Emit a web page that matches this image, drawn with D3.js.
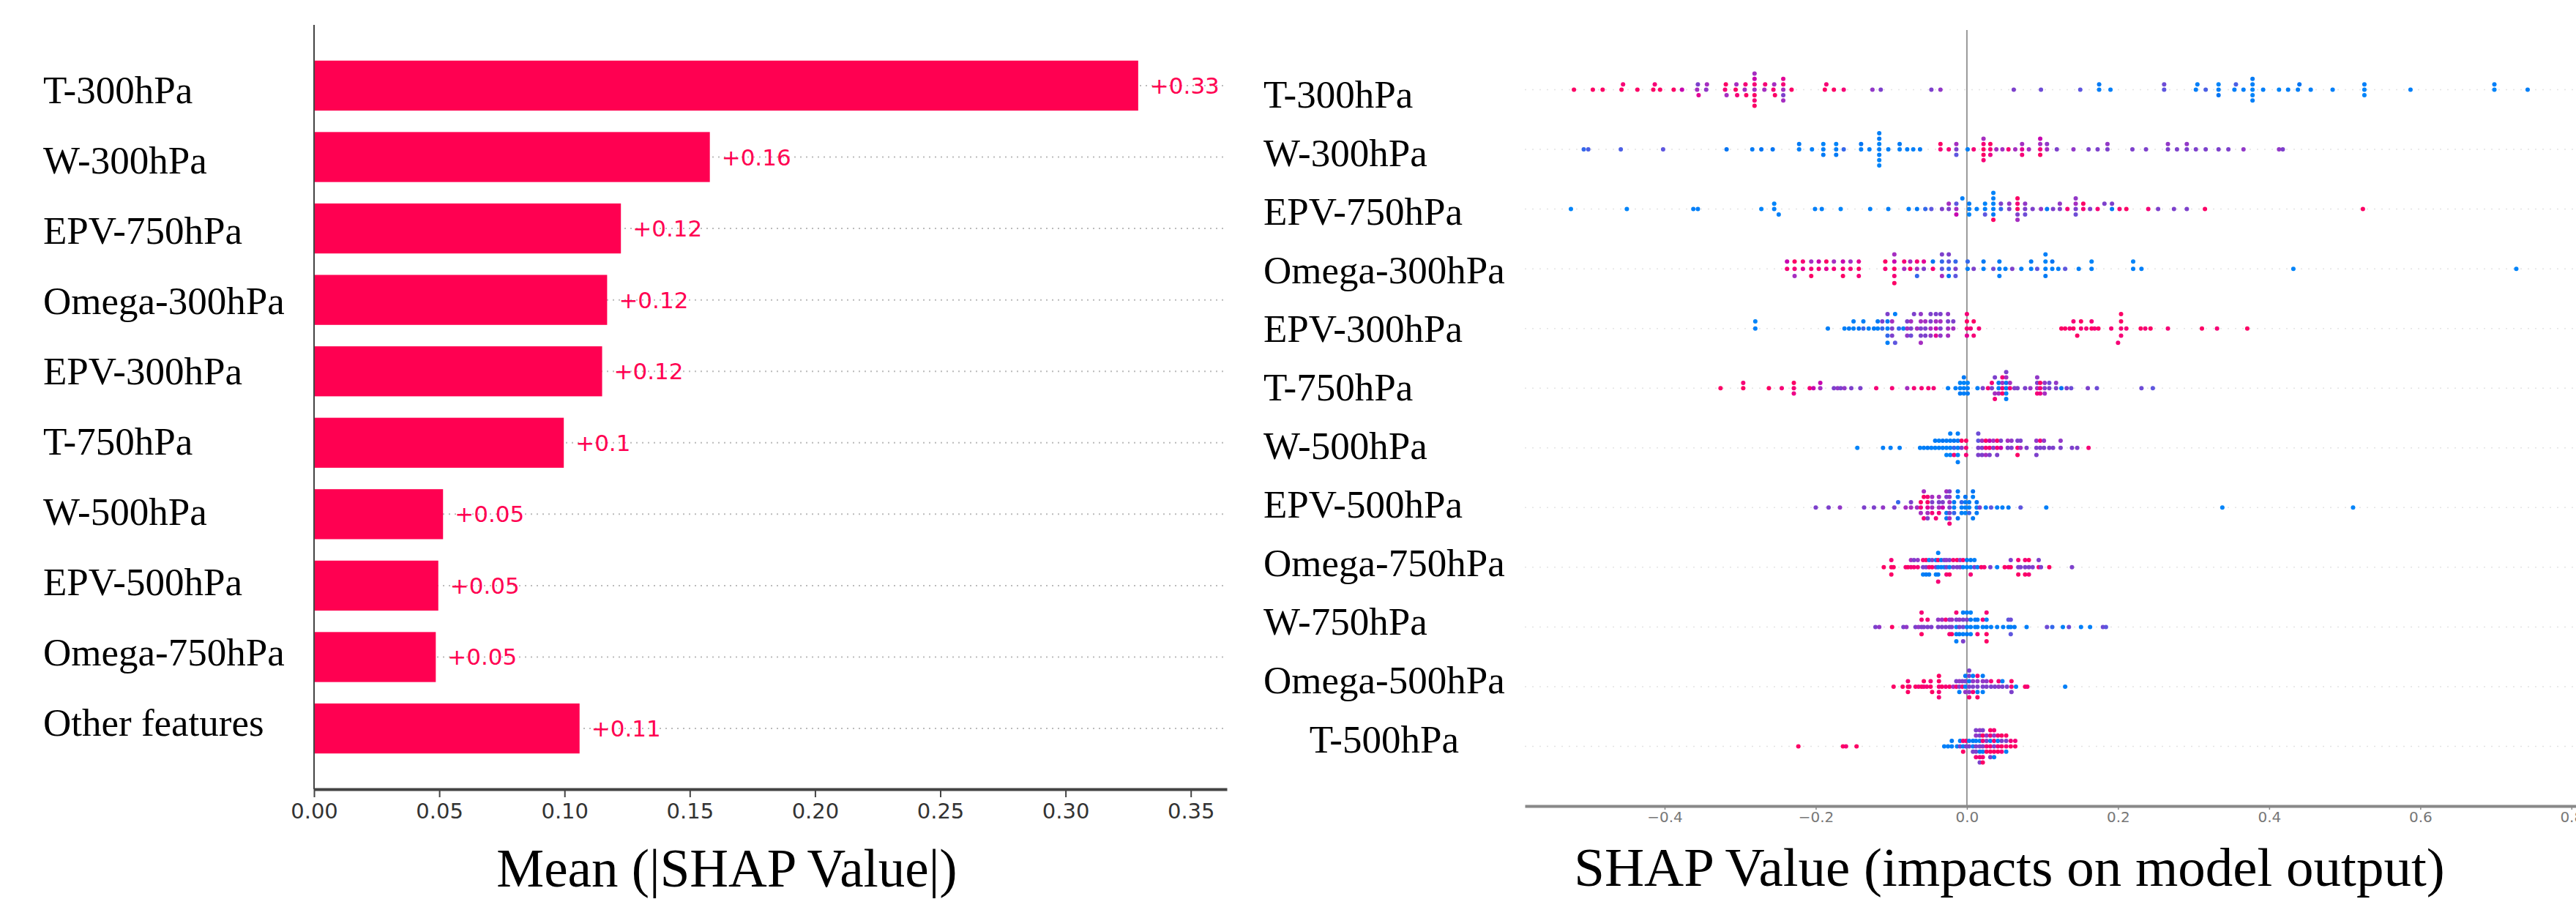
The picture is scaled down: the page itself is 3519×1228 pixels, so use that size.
<!DOCTYPE html>
<html>
<head>
<meta charset="utf-8">
<script src="https://cdn.jsdelivr.net/npm/d3@7"></script>
<style>
  body { margin: 0; background: #fff; }
</style>
</head>
<body>
<div id="chart"></div>
<script>
// ---------- data ----------
// left: mean |SHAP| per feature
var barFeatures = ["T-300hPa", "W-300hPa", "EPV-750hPa", "Omega-300hPa", "EPV-300hPa",
  "T-750hPa", "W-500hPa", "EPV-500hPa", "Omega-750hPa", "Other features"];
var barValues = [0.329, 0.158, 0.1225, 0.117, 0.115, 0.0997, 0.0515, 0.0496, 0.0486, 0.106];
var barTicks = [0, 0.05, 0.10, 0.15, 0.20, 0.25, 0.30, 0.35];

// right: beeswarm rows, each dot = [shap value, feature value (0 low .. 1 high)]
var swarmFeatures = ["T-300hPa", "W-300hPa", "EPV-750hPa", "Omega-300hPa", "EPV-300hPa", "T-750hPa",
  "W-500hPa", "EPV-500hPa", "Omega-750hPa", "W-750hPa", "Omega-500hPa", "T-500hPa"];
var swarmTicks = [-0.4, -0.2, 0.0, 0.2, 0.4, 0.6, 0.8];

var dotsT300 = [[-0.520,.95],[-0.495,.95],[-0.482,.95],[-0.457,.95],[-0.455,.9],[-0.436,.95],[-0.415,.95],[-0.413,.9],
  [-0.406,.95],[-0.388,.95],[-0.377,.7],[-0.357,.6],[-0.356,.5],[-0.355,.8],[-0.345,.55],[-0.344,.6],
  [-0.320,.9],[-0.319,.95],[-0.318,.6],[-0.306,.95],[-0.305,.6],[-0.304,.9],[-0.294,.6],[-0.293,.9],[-0.292,.95],
  [-0.281,.6],[-0.281,.9],[-0.281,.95],[-0.281,.7],[-0.281,.9],[-0.281,.6],[-0.281,.95],[-0.268,.6],[-0.267,.9],
  [-0.256,.9],[-0.255,.6],[-0.254,.95],[-0.243,.6],[-0.243,.9],[-0.243,.5],[-0.243,.8],[-0.243,.6],[-0.232,.95],
  [-0.188,.95],[-0.186,.9],[-0.176,.95],[-0.163,.9],[-0.125,.55],[-0.114,.5],[-0.047,.5],[-0.035,.55],
  [0.062,.5],[0.098,.45],[0.150,.4],[0.175,.1],[0.175,.15],[0.190,.1],[0.261,.4],[0.261,.45],
  [0.303,.1],[0.305,.1],[0.316,.35],[0.333,.1],[0.333,.05],[0.333,.2],[0.354,.1],[0.356,.35],[0.366,.1],
  [0.378,.05],[0.378,.1],[0.378,.05],[0.378,.15],[0.378,.1],[0.392,.1],[0.413,.05],[0.425,.1],[0.438,.1],[0.440,.2],
  [0.455,.1],[0.484,.1],[0.526,.05],[0.526,.1],[0.526,.05],[0.587,.1],[0.698,.05],[0.698,.1],[0.742,.1]];

var dotsW300 = [[-0.507,.3],[-0.501,.35],[-0.458,.35],[-0.402,.4],[-0.318,.2],[-0.284,.15],[-0.272,.2],[-0.257,.2],
  [-0.222,.1],[-0.222,.15],[-0.205,.1],[-0.190,.1],[-0.190,.05],[-0.190,.15],[-0.173,.1],[-0.173,.05],[-0.173,.15],[-0.163,.3],
  [-0.140,.1],[-0.140,.2],[-0.129,.1],[-0.116,.1],[-0.116,.05],[-0.116,.1],[-0.116,.15],[-0.116,.05],[-0.116,.1],[-0.116,.05],
  [-0.104,.1],[-0.089,.1],[-0.089,.15],[-0.079,.1],[-0.071,.1],[-0.062,.15],[-0.035,.9],[-0.035,.95],[-0.024,.9],
  [-0.014,.5],[-0.014,.6],[-0.014,.4],[0.001,.1],[0.009,.9],[0.022,.95],[0.022,.9],[0.022,.95],[0.022,.6],[0.022,.9],
  [0.031,.9],[0.031,.95],[0.031,.85],[0.039,.6],[0.047,.6],[0.055,.9],[0.064,.6],[0.073,.8],[0.073,.6],[0.073,.9],[0.082,.6],
  [0.097,.9],[0.097,.6],[0.097,.95],[0.097,.7],[0.106,.6],[0.106,.55],[0.119,.5],[0.141,.55],[0.161,.5],[0.173,.5],
  [0.186,.5],[0.186,.55],[0.219,.5],[0.237,.5],[0.266,.5],[0.266,.55],[0.278,.5],[0.291,.5],[0.291,.55],[0.303,.5],
  [0.316,.5],[0.333,.5],[0.346,.5],[0.366,.55],[0.413,.55],[0.418,.5]];

var dotsEPV750 = [[-0.524,.05],[-0.450,.05],[-0.362,.1],[-0.356,.1],[-0.272,.05],[-0.255,.1],[-0.255,.05],[-0.249,.1],
  [-0.201,.1],[-0.192,.1],[-0.167,.05],[-0.128,.1],[-0.104,.1],[-0.077,.1],[-0.066,.15],[-0.055,.3],[-0.047,.4],
  [-0.033,.5],[-0.024,.5],[-0.024,.6],[-0.014,.6],[-0.014,.4],[-0.014,.7],[-0.006,.1],[0.003,.1],[0.003,.15],[0.003,.05],
  [0.013,.1],[0.024,.1],[0.024,.05],[0.024,.4],[0.035,.1],[0.035,.05],[0.035,.15],[0.035,.1],[0.035,.95],[0.035,.05],
  [0.045,.3],[0.045,.5],[0.056,.5],[0.056,.55],[0.067,.95],[0.067,.9],[0.067,.5],[0.067,.95],[0.067,.6],
  [0.077,.5],[0.077,.55],[0.077,.45],[0.087,.5],[0.098,.55],[0.106,.15],[0.114,.5],[0.123,.5],[0.123,.55],[0.133,.9],
  [0.144,.5],[0.144,.6],[0.144,.45],[0.144,.55],[0.154,.9],[0.154,.95],[0.163,.5],[0.173,.9],[0.182,.5],[0.192,.15],[0.192,.5],
  [0.202,.9],[0.211,.95],[0.240,.9],[0.253,.5],[0.274,.5],[0.291,.5],[0.315,.95],[0.524,.95]];

var dotsOmega300 = [[-0.238,.9],[-0.238,.7],[-0.228,.9],[-0.228,.95],[-0.228,.6],[-0.217,.8],[-0.217,.9],[-0.206,.9],
  [-0.206,.6],[-0.206,.95],[-0.196,.9],[-0.196,.7],[-0.186,.8],[-0.186,.95],[-0.176,.9],[-0.176,.6],[-0.164,.9],[-0.164,.7],
  [-0.164,.95],[-0.154,.9],[-0.154,.6],[-0.143,.95],[-0.143,.8],[-0.143,.9],[-0.108,.9],[-0.108,.95],
  [-0.096,.95],[-0.096,.7],[-0.096,.9],[-0.096,.6],[-0.096,.95],[-0.083,.6],[-0.083,.9],[-0.075,.95],[-0.075,.6],
  [-0.066,.6],[-0.066,.9],[-0.066,.3],[-0.057,.5],[-0.057,.8],[-0.045,.9],[-0.045,.2],[-0.033,.4],[-0.033,.3],[-0.033,.6],
  [-0.033,.5],[-0.024,.3],[-0.024,.4],[-0.024,.2],[-0.024,.5],[-0.015,.5],[-0.015,.3],[-0.015,.4],[0.001,.1],[0.001,.3],
  [0.009,.5],[0.022,.1],[0.022,.15],[0.035,.45],[0.043,.1],[0.043,.15],[0.043,.1],[0.051,.1],[0.060,.5],[0.072,.1],
  [0.085,.1],[0.085,.15],[0.093,.4],[0.104,.1],[0.104,.05],[0.104,.15],[0.104,.1],[0.113,.1],[0.113,.2],[0.121,.1],
  [0.130,.4],[0.148,.1],[0.165,.1],[0.165,.05],[0.220,.1],[0.220,.05],[0.231,.1],[0.432,.05],[0.727,.05]];

var dotsEPV300 = [[-0.280,.1],[-0.280,.05],[-0.184,.1],[-0.162,.1],[-0.156,.15],[-0.150,.1],[-0.150,.1],[-0.143,.2],
  [-0.137,.3],[-0.137,.1],[-0.130,.1],[-0.123,.15],[-0.118,.1],[-0.118,.15],[-0.112,.3],[-0.112,.5],
  [-0.105,.1],[-0.105,.15],[-0.105,.3],[-0.105,.5],[-0.105,.1],[-0.099,.5],[-0.099,.6],[-0.099,.5],[-0.095,.1],[-0.095,.4],
  [-0.090,.3],[-0.084,.1],[-0.079,.6],[-0.079,.5],[-0.079,.55],[-0.074,.5],[-0.074,.6],[-0.074,.45],[-0.070,.5],[-0.066,.6],
  [-0.061,.5],[-0.061,.6],[-0.061,.5],[-0.061,.55],[-0.061,.6],[-0.055,.5],[-0.055,.6],[-0.055,.5],
  [-0.048,.6],[-0.048,.5],[-0.048,.55],[-0.048,.5],[-0.041,.7],[-0.041,.6],[-0.041,.8],[-0.041,.5],
  [-0.035,.5],[-0.035,.6],[-0.035,.55],[-0.035,.5],[-0.025,.6],[-0.025,.5],[-0.025,.6],[-0.025,.55],[-0.018,.6],[-0.018,.5],
  [0.000,.9],[0.000,.95],[0.000,.8],[0.000,.9],[0.005,.9],[0.009,.95],[0.009,.9],[0.016,.9],
  [0.125,.95],[0.130,.95],[0.136,.9],[0.141,.95],[0.141,.9],[0.146,.95],[0.151,.9],[0.151,.95],[0.158,.9],[0.165,.95],
  [0.165,.9],[0.169,.9],[0.174,.95],[0.191,.9],[0.204,.9],[0.204,.95],[0.204,.9],[0.204,.95],[0.200,.9],[0.211,.9],
  [0.230,.95],[0.236,.9],[0.243,.95],[0.266,.9],[0.311,.95],[0.331,.9],[0.371,.95]];

var dotsT750 = [[-0.326,.95],[-0.296,.95],[-0.296,.9],[-0.262,.95],[-0.245,.9],[-0.229,.9],[-0.229,.95],[-0.229,.85],
  [-0.208,.9],[-0.203,.7],[-0.194,.6],[-0.194,.7],[-0.176,.5],[-0.171,.55],[-0.167,.5],[-0.162,.55],[-0.153,.5],[-0.141,.5],
  [-0.120,.9],[-0.099,.9],[-0.079,.6],[-0.070,.9],[-0.060,.9],[-0.051,.9],[-0.044,.9],[-0.025,.1],[-0.015,.1],
  [-0.009,.1],[-0.009,.05],[-0.009,.15],[-0.004,.1],[-0.004,.05],[-0.004,.1],[-0.004,.15],[0.001,.1],[0.001,.05],[0.001,.15],
  [0.014,.1],[0.021,.5],[0.028,.9],[0.033,.5],[0.033,.9],[0.037,.6],[0.037,.5],[0.037,.9],[0.042,.1],[0.042,.15],[0.042,.6],
  [0.047,.9],[0.047,.6],[0.047,.95],[0.047,.9],[0.052,.1],[0.052,.15],[0.052,.05],[0.052,.6],[0.052,.1],[0.052,.5],
  [0.057,.9],[0.057,.6],[0.063,.5],[0.067,.5],[0.077,.5],[0.084,.55],[0.093,.6],[0.093,.5],[0.093,.9],[0.093,.55],
  [0.097,.9],[0.097,.95],[0.097,.85],[0.103,.5],[0.103,.55],[0.103,.6],[0.109,.5],[0.109,.45],[0.118,.5],[0.118,.55],
  [0.125,.2],[0.132,.5],[0.138,.45],[0.160,.5],[0.172,.45],[0.231,.45],[0.246,.4]];

var dotsW500 = [[-0.145,.05],[-0.111,.1],[-0.101,.1],[-0.089,.1],[-0.062,.1],[-0.057,.1],[-0.052,.15],[-0.047,.1],
  [-0.042,.1],[-0.042,.15],[-0.037,.1],[-0.037,.1],[-0.032,.1],[-0.032,.2],[-0.027,.1],[-0.027,.15],[-0.027,.05],
  [-0.022,.1],[-0.022,.15],[-0.022,.05],[-0.022,.1],[-0.017,.3],[-0.017,.2],[-0.017,.9],
  [-0.012,.1],[-0.012,.15],[-0.012,.05],[-0.012,.1],[-0.012,.1],[-0.007,.5],[-0.007,.95],[-0.001,.9],[-0.001,.95],[-0.001,.9],
  [0.015,.5],[0.015,.4],[0.015,.5],[0.015,.45],[0.020,.5],[0.020,.6],[0.020,.5],[0.025,.9],[0.025,.95],[0.025,.6],
  [0.030,.9],[0.030,.7],[0.030,.5],[0.035,.5],[0.035,.6],[0.040,.9],[0.040,.95],[0.040,.5],[0.045,.7],[0.045,.5],
  [0.054,.5],[0.054,.6],[0.059,.5],[0.059,.55],[0.067,.9],[0.067,.5],[0.067,.95],[0.071,.6],[0.071,.5],[0.079,.5],
  [0.092,.5],[0.092,.55],[0.092,.5],[0.097,.5],[0.097,.9],[0.102,.5],[0.102,.55],[0.109,.5],[0.114,.5],[0.124,.5],
  [0.124,.55],[0.139,.5],[0.146,.5],[0.161,.9]];

var dotsEPV500 = [[-0.200,.5],[-0.183,.5],[-0.168,.55],[-0.136,.5],[-0.123,.5],[-0.111,.55],[-0.096,.5],[-0.091,.3],
  [-0.081,.6],[-0.074,.6],[-0.074,.5],[-0.066,.6],[-0.061,.9],[-0.061,.95],[-0.061,.6],[-0.057,.95],[-0.057,.9],
  [-0.057,.6],[-0.052,.8],[-0.052,.95],[-0.052,.6],[-0.052,.9],[-0.052,.5],[-0.046,.6],[-0.046,.5],[-0.046,.9],
  [-0.046,.6],[-0.041,.9],[-0.037,.6],[-0.037,.5],[-0.037,.9],[-0.037,.6],[-0.032,.7],[-0.032,.5],
  [-0.027,.1],[-0.027,.5],[-0.027,.15],[-0.027,.6],[-0.023,.5],[-0.023,.6],[-0.023,.5],[-0.023,.55],[-0.023,.6],
  [-0.023,.5],[-0.023,.9],[-0.017,.1],[-0.017,.15],[-0.017,.3],[-0.012,.1],[-0.012,.2],[-0.012,.15],[-0.007,.1],
  [-0.007,.3],[-0.007,.1],[-0.002,.1],[-0.002,.15],[-0.002,.05],[-0.002,.2],[0.003,.1],[0.003,.15],[0.003,.3],
  [0.008,.1],[0.008,.15],[0.008,.2],[0.013,.1],[0.013,.2],[0.013,.15],[0.017,.5],[0.025,.1],[0.032,.4],[0.040,.1],
  [0.047,.1],[0.055,.15],[0.071,.4],[0.105,.1],[0.338,.05],[0.511,.05]];

var dotsOmega750 = [[-0.110,.95],[-0.100,.95],[-0.100,.9],[-0.100,.95],[-0.097,.95],[-0.081,.9],[-0.078,.95],
  [-0.074,.9],[-0.074,.6],[-0.070,.9],[-0.070,.5],[-0.065,.9],[-0.065,.55],[-0.058,.5],[-0.058,.9],[-0.058,.1],
  [-0.054,.5],[-0.054,.95],[-0.054,.15],[-0.050,.9],[-0.050,.1],[-0.050,.15],[-0.046,.95],[-0.046,.5],
  [-0.041,.5],[-0.041,.1],[-0.041,.1],[-0.038,.1],[-0.038,.95],[-0.038,.15],[-0.038,.1],[-0.038,.9],
  [-0.034,.1],[-0.034,.15],[-0.030,.1],[-0.030,.5],[-0.027,.5],[-0.027,.55],[-0.027,.9],[-0.023,.1],[-0.023,.5],
  [-0.023,.95],[-0.018,.5],[-0.018,.9],[-0.013,.5],[-0.013,.95],[-0.009,.5],[-0.009,.55],[-0.005,.1],[-0.005,.9],
  [0.000,.1],[0.000,.15],[0.005,.1],[0.005,.15],[0.005,.9],[0.010,.5],[0.010,.1],[0.014,.1],[0.019,.95],[0.023,.9],
  [0.031,.5],[0.040,.1],[0.050,.95],[0.055,.9],[0.058,.95],[0.058,.5],[0.068,.5],[0.068,.9],[0.068,.95],[0.071,.5],
  [0.077,.5],[0.077,.9],[0.077,.95],[0.082,.5],[0.082,.95],[0.082,.9],[0.087,.5],[0.095,.9],[0.095,.5],[0.098,.5],
  [0.109,.95],[0.139,.5]];

var dotsW750 = [[-0.121,.5],[-0.116,.55],[-0.099,.95],[-0.084,.5],[-0.080,.55],[-0.068,.5],[-0.064,.55],
  [-0.060,.5],[-0.060,.9],[-0.060,.95],[-0.060,.9],[-0.057,.5],[-0.052,.5],[-0.052,.9],[-0.047,.5],
  [-0.038,.5],[-0.038,.55],[-0.033,.5],[-0.033,.6],[-0.028,.5],[-0.028,.9],[-0.023,.5],[-0.023,.55],[-0.023,.9],
  [-0.020,.5],[-0.020,.6],[-0.020,.95],[-0.014,.1],[-0.014,.5],[-0.014,.15],[-0.014,.9],[-0.014,.1],
  [-0.010,.5],[-0.010,.55],[-0.010,.15],[-0.005,.45],[-0.005,.5],[-0.005,.1],[-0.005,.1],[-0.005,.5],
  [0.000,.1],[0.000,.5],[0.000,.15],[0.000,.1],[0.005,.1],[0.005,.15],[0.005,.1],[0.005,.05],[0.011,.1],[0.011,.15],
  [0.014,.1],[0.014,.15],[0.014,.9],[0.021,.1],[0.021,.9],[0.026,.15],[0.026,.1],[0.026,.95],[0.026,.9],[0.026,.95],
  [0.032,.1],[0.040,.1],[0.048,.1],[0.055,.1],[0.055,.4],[0.058,.1],[0.058,.45],[0.058,.4],[0.063,.15],[0.079,.1],
  [0.106,.45],[0.113,.3],[0.127,.1],[0.135,.45],[0.151,.1],[0.163,.1],[0.180,.45],[0.184,.4]];

var dotsOmega500 = [[-0.097,.95],[-0.085,.95],[-0.078,.95],[-0.078,.9],[-0.078,.95],[-0.076,.9],[-0.068,.95],
  [-0.064,.9],[-0.060,.95],[-0.057,.9],[-0.057,.95],[-0.053,.9],[-0.048,.95],[-0.048,.9],[-0.046,.95],
  [-0.037,.9],[-0.037,.95],[-0.037,.9],[-0.037,.95],[-0.037,.9],[-0.033,.95],[-0.028,.9],[-0.023,.95],[-0.018,.6],
  [-0.014,.9],[-0.014,.5],[-0.010,.5],[-0.010,.55],[-0.010,.1],[-0.006,.9],[-0.006,.5],[-0.002,.1],[-0.002,.5],
  [-0.002,.55],[-0.002,.15],[0.003,.5],[0.003,.15],[0.003,.55],[0.003,.5],[0.003,.9],[0.003,.5],[0.008,.5],[0.008,.55],
  [0.008,.9],[0.008,.1],[0.014,.5],[0.014,.55],[0.014,.1],[0.014,.9],[0.014,.95],[0.021,.5],[0.021,.55],[0.021,.1],
  [0.021,.15],[0.026,.5],[0.026,.55],[0.032,.5],[0.032,.9],[0.037,.5],[0.042,.55],[0.042,.9],[0.047,.5],[0.047,.1],
  [0.053,.5],[0.059,.9],[0.059,.95],[0.059,.5],[0.065,.1],[0.077,.95],[0.080,.9],[0.130,.1]];

var dotsT500 = [[-0.223,.95],[-0.164,.95],[-0.160,.9],[-0.146,.95],[-0.030,.1],[-0.025,.1],[-0.020,.1],[-0.020,.15],
  [-0.013,.1],[-0.009,.5],[-0.009,.1],[-0.005,.1],[-0.005,.9],[-0.005,.95],[-0.001,.5],[-0.001,.9],[0.003,.5],[0.003,.1],
  [0.008,.1],[0.008,.15],[0.008,.5],[0.012,.5],[0.012,.1],[0.012,.5],[0.012,.55],[0.012,.9],[0.012,.5],
  [0.017,.5],[0.017,.1],[0.017,.15],[0.017,.5],[0.017,.9],[0.017,.55],[0.017,.5],
  [0.021,.5],[0.021,.9],[0.021,.1],[0.021,.95],[0.021,.9],[0.021,.5],[0.021,.95],[0.026,.9],[0.026,.5],[0.026,.95],[0.026,.55],
  [0.031,.9],[0.031,.1],[0.031,.95],[0.031,.9],[0.031,.5],[0.031,.95],[0.036,.5],[0.036,.9],[0.036,.95],[0.036,.55],
  [0.036,.1],[0.036,.9],[0.041,.9],[0.041,.1],[0.041,.95],[0.041,.9],[0.046,.95],[0.046,.5],[0.046,.9],[0.046,.95],
  [0.052,.9],[0.052,.5],[0.052,.1],[0.052,.95],[0.058,.95],[0.058,.9],[0.064,.95],[0.064,.9]];

var swarmRows = [dotsT300, dotsW300, dotsEPV750, dotsOmega300, dotsEPV300, dotsT750,
  dotsW500, dotsEPV500, dotsOmega750, dotsW750, dotsOmega500, dotsT500];

// ---------- setup ----------
var width = 3519, height = 1228;
var serif = '"Times New Roman", "Liberation Serif", serif';
var sans = '"DejaVu Sans", sans-serif';
var shapRed = '#ff0051';

var svg = d3.select('#chart')
  .append('svg')
  .attr('width', width)
  .attr('height', height)
  .style('background', '#fff');

// shap-like red_blue colormap: lch blend blue -> violet -> red, lightness dips in the middle
function shapColor(t) {
  var h = 266.9 + Math.pow(t, 1.5) * (380.3 - 266.9);
  var c = 70 + t * 20;
  var l = t < 0.5 ? 54 - 26 * t : 41 + 26 * (t - 0.5);
  return d3.hcl(h % 360, c, l).formatHex();
}

// ================= left: bar chart =================
var xBar = d3.scaleLinear().domain([0, 0.3644]).range([429, 1676]);
var yBar = d3.scalePoint().domain(barFeatures).range([34, 1078]).padding(0.85);
var yBarLabel = d3.scalePoint().domain(barFeatures).range([123, 987]);
var barH = yBar.step() * 0.7;

var left = svg.append('g');

// dotted row guides
left.selectAll('.guide')
  .data(barFeatures)
  .enter().append('line')
  .attr('x1', xBar(0)).attr('x2', xBar.range()[1])
  .attr('y1', d => yBar(d)).attr('y2', d => yBar(d))
  .attr('stroke', '#bbb')
  .attr('stroke-width', 2)
  .attr('stroke-dasharray', '2,6');

left.selectAll('.bar')
  .data(barValues)
  .enter().append('rect')
  .attr('x', xBar(0))
  .attr('y', (d, i) => yBar(barFeatures[i]) - barH / 2)
  .attr('width', d => xBar(d) - xBar(0))
  .attr('height', barH)
  .attr('fill', shapRed);

// value labels, "%.2f" with trailing zeros dropped
function fmtVal(v) { return '+' + d3.format('.2f')(v).replace(/\.?0+$/, ''); }
left.selectAll('.val')
  .data(barValues)
  .enter().append('text')
  .attr('x', d => xBar(d) + 16)
  .attr('y', (d, i) => yBar(barFeatures[i]))
  .attr('dominant-baseline', 'central')
  .style('font-family', sans)
  .style('font-size', '31px')
  .attr('fill', shapRed)
  .text(fmtVal);

left.selectAll('.name')
  .data(barFeatures)
  .enter().append('text')
  .attr('x', 59)
  .attr('y', d => yBarLabel(d) + 18)
  .style('font-family', serif)
  .style('font-size', '53px')
  .attr('fill', '#000')
  .text(d => d);

// left spine
left.append('line')
  .attr('x1', xBar(0)).attr('x2', xBar(0))
  .attr('y1', 34).attr('y2', 1078)
  .attr('stroke', '#444').attr('stroke-width', 2);

var axBar = left.append('g')
  .attr('transform', 'translate(0,1078)')
  .call(d3.axisBottom(xBar).tickValues(barTicks).tickFormat(d3.format('.2f')).tickSize(11).tickSizeOuter(0).tickPadding(8));
axBar.select('.domain').attr('stroke', '#444').attr('stroke-width', 4);
axBar.selectAll('.tick line').attr('stroke', '#444').attr('stroke-width', 2);
axBar.selectAll('.tick text').style('font-family', sans).style('font-size', '29px').attr('fill', '#333');

left.append('text')
  .attr('x', 993).attr('y', 1211)
  .attr('text-anchor', 'middle')
  .style('font-family', serif)
  .style('font-size', '73px')
  .text('Mean (|SHAP Value|)');

// ================= right: beeswarm =================
var xSw = d3.scaleLinear().domain([-0.585, 0.806]).range([2083, 3519]);
var ySw = d3.scalePoint().domain(swarmFeatures).range([41, 1101]).padding(1);
var ySwLabel = d3.scalePoint().domain(swarmFeatures).range([129, 1009.5]);
var rowStep = ySw.step();

var right = svg.append('g');

right.selectAll('.guide')
  .data(swarmFeatures)
  .enter().append('line')
  .attr('x1', xSw.range()[0]).attr('x2', xSw.range()[1])
  .attr('y1', d => ySw(d)).attr('y2', d => ySw(d))
  .attr('stroke', '#e4e4e4')
  .attr('stroke-width', 1.5)
  .attr('stroke-dasharray', '2,8');

right.append('line')
  .attr('x1', xSw(0)).attr('x2', xSw(0))
  .attr('y1', 41).attr('y2', 1101)
  .attr('stroke', '#999').attr('stroke-width', 2);

// same stacking as shap: 100 bins per row, alternate up / down inside a bin
function stackOffsets(dots) {
  var ext = d3.extent(dots, d => d[0]);
  var quant = dots.map(d => Math.round(100 * (d[0] - ext[0]) / (ext[1] - ext[0])));
  var order = d3.range(dots.length).sort((a, b) => quant[a] - quant[b]);
  var ys = new Array(dots.length), layer = 0, last = -1;
  order.forEach(function(i) {
    if (quant[i] !== last) layer = 0;
    ys[i] = Math.ceil(layer / 2) * ((layer % 2) * 2 - 1);
    layer++;
    last = quant[i];
  });
  var top = d3.max(ys) + 1;
  return ys.map(v => v * 0.9 * 0.4 / top);
}

swarmRows.forEach(function(dots, r) {
  var offs = stackOffsets(dots);
  var cy = ySw(swarmFeatures[r]);
  right.append('g')
    .selectAll('circle')
    .data(dots)
    .enter().append('circle')
    .attr('cx', d => xSw(d[0]))
    .attr('cy', (d, i) => cy - offs[i] * rowStep)
    .attr('r', 3)
    .attr('fill', d => shapColor(d[1]));
});

var axSw = right.append('g')
  .attr('transform', 'translate(0,1101)')
  .call(d3.axisBottom(xSw).tickValues(swarmTicks).tickFormat(d3.format('.1f')).tickSize(5).tickSizeOuter(0).tickPadding(3));
axSw.select('.domain').attr('stroke', '#888').attr('stroke-width', 4);
axSw.selectAll('.tick line').attr('stroke', '#888').attr('stroke-width', 1.5);
axSw.selectAll('.tick text').style('font-family', sans).style('font-size', '20px').attr('fill', '#777');

var names = right.selectAll('.name')
  .data(swarmFeatures)
  .enter().append('text')
  .attr('x', 1726)
  .attr('y', d => ySwLabel(d) + 18)
  .style('font-family', serif)
  .style('font-size', '53px')
  .attr('fill', '#000')
  .text(d => d);

// the last label sits centred under the block of names in the original
var widest = d3.max(names.nodes(), n => n.getComputedTextLength());
names.filter((d, i) => i === swarmFeatures.length - 1)
  .attr('x', 1726 + widest / 2)
  .attr('text-anchor', 'middle');

right.append('text')
  .attr('x', 2745).attr('y', 1210)
  .attr('text-anchor', 'middle')
  .style('font-family', serif)
  .style('font-size', '75px')
  .text('SHAP Value (impacts on model output)');
</script>
</body>
</html>
